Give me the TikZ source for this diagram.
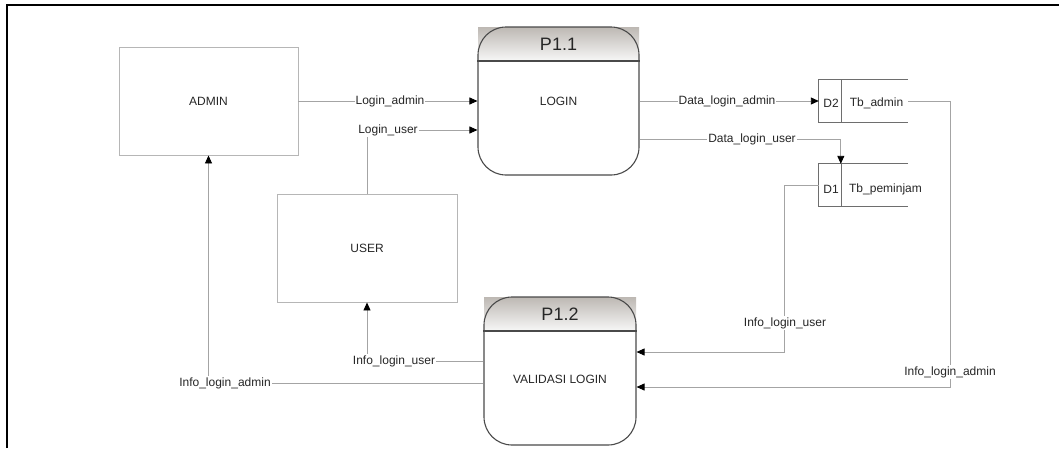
\documentclass[tikz,border=0pt]{standalone}
\usepackage{fontspec}
\setmainfont{Liberation Sans}
\usetikzlibrary{arrows.meta,calc}
\definecolor{linec}{HTML}{A4A4A4}
\definecolor{entc}{HTML}{B6B6B6}
\definecolor{procc}{HTML}{4A4A4A}
\definecolor{storec}{HTML}{6E6E6E}
\definecolor{txtc}{HTML}{262626}
\definecolor{hdtop}{HTML}{BDB8B3}
\begin{document}
\begin{tikzpicture}[x=1pt,y=-1pt,
  every node/.style={text=txtc, font=\fontsize{12}{14}\selectfont},
  ent/.style={draw=entc, line width=0.9pt, inner sep=0pt},
  proc/.style={draw=procc, line width=1.1pt, rounded corners=28pt, inner sep=0pt},
  flow/.style={draw=linec, line width=0.9pt, -{Triangle[length=8pt,width=7pt,color=black]}},
  lbl/.style={fill=white, inner sep=1pt},
  ttl/.style={font=\fontsize{18}{20}\selectfont},
  storeline/.style={draw=storec, line width=0.9pt}]
\useasboundingbox (0,0) rectangle (1059,448);
% frame
\draw[line width=1.5pt, black] (7,448) -- (7,5) -- (1059,5);

% external entities
\node[ent, minimum width=179pt, minimum height=108pt] (admin) at (208.5,101) {ADMIN};
\node[ent, minimum width=180pt, minimum height=108pt] (user) at (367,248) {USER};

% process P1.1
\shade[top color=hdtop, bottom color=white!97!black] (478,27) rectangle (639,61);
\node[proc, minimum width=161pt, minimum height=148pt] (p11) at (558.5,101) {};
\draw[procc, line width=1.1pt] (p11.west |- 0,61) -- (p11.east |- 0,61);
\node[ttl] (p11t) at (558.5,44) {P1.1};
\node (p11n) at (558.5,101) {LOGIN};

% process P1.2
\shade[top color=hdtop, bottom color=white!97!black] (484,297) rectangle (636,331);
\node[proc, minimum width=152pt, minimum height=148pt] (p12) at (560,371) {};
\draw[procc, line width=1.1pt] (p12.west |- 0,331) -- (p12.east |- 0,331);
\node[ttl] (p12t) at (560,314) {P1.2};
\node (p12n) at (560,379) {VALIDASI LOGIN};

% data stores
\node[inner sep=0pt, minimum width=89pt, minimum height=43pt] (d2) at (863.5,101) {};
\draw[storeline] (d2.north east) -- (d2.north west) -- (d2.south west) -- (d2.south east);
\draw[storeline] ($(d2.north west)+(23,0)$) -- ($(d2.south west)+(23,0)$);
\node (d2id) at (831,103) {D2};
\node (d2n) at (876.5,103) {Tb\_admin};

\node[inner sep=0pt, minimum width=89pt, minimum height=42pt] (d1) at (863.5,185) {};
\draw[storeline] (d1.north east) -- (d1.north west) -- (d1.south west) -- (d1.south east);
\draw[storeline] ($(d1.north west)+(23,0)$) -- ($(d1.south west)+(23,0)$);
\node (d1id) at (831,189) {D1};
\node (d1n) at (885.5,189) {Tb\_peminjam};

% flows
\draw[flow] (admin.east) -- (p11.west |- admin.east);
\draw[flow] (user.north) |- ($(p11.west)+(0,29)$);
\draw[flow] (p11.east) -- (d2.west);
\draw[flow] ($(p11.east)+(0,38)$) -| ($(d1.north west)+(22,0)$);
\draw[flow] (d1.west) -- ++(-34,0) |- ($(p12.east)+(0,-19)$);
\draw[flow] (d2.east) -- ++(42,0) |- ($(p12.east)+(0,16)$);
\draw[flow] ($(p12.west)+(0,-10)$) -| (user.south);
\draw[flow] ($(p12.west)+(0,12)$) -| (admin.south);

% labels
\node[lbl] (l1) at (390,101) {Login\_admin};
\node[lbl] (l2) at (388,130) {Login\_user};
\node[lbl] (l3) at (727,101) {Data\_login\_admin};
\node[lbl] (l4) at (752,139) {Data\_login\_user};
\node[lbl] (l5) at (785,323) {Info\_login\_user};
\node[lbl] (l6) at (950,372) {Info\_login\_admin};
\node[lbl] (l7) at (394,361) {Info\_login\_user};
\node[lbl] (l8) at (225,383) {Info\_login\_admin};
\end{tikzpicture}
\end{document}
